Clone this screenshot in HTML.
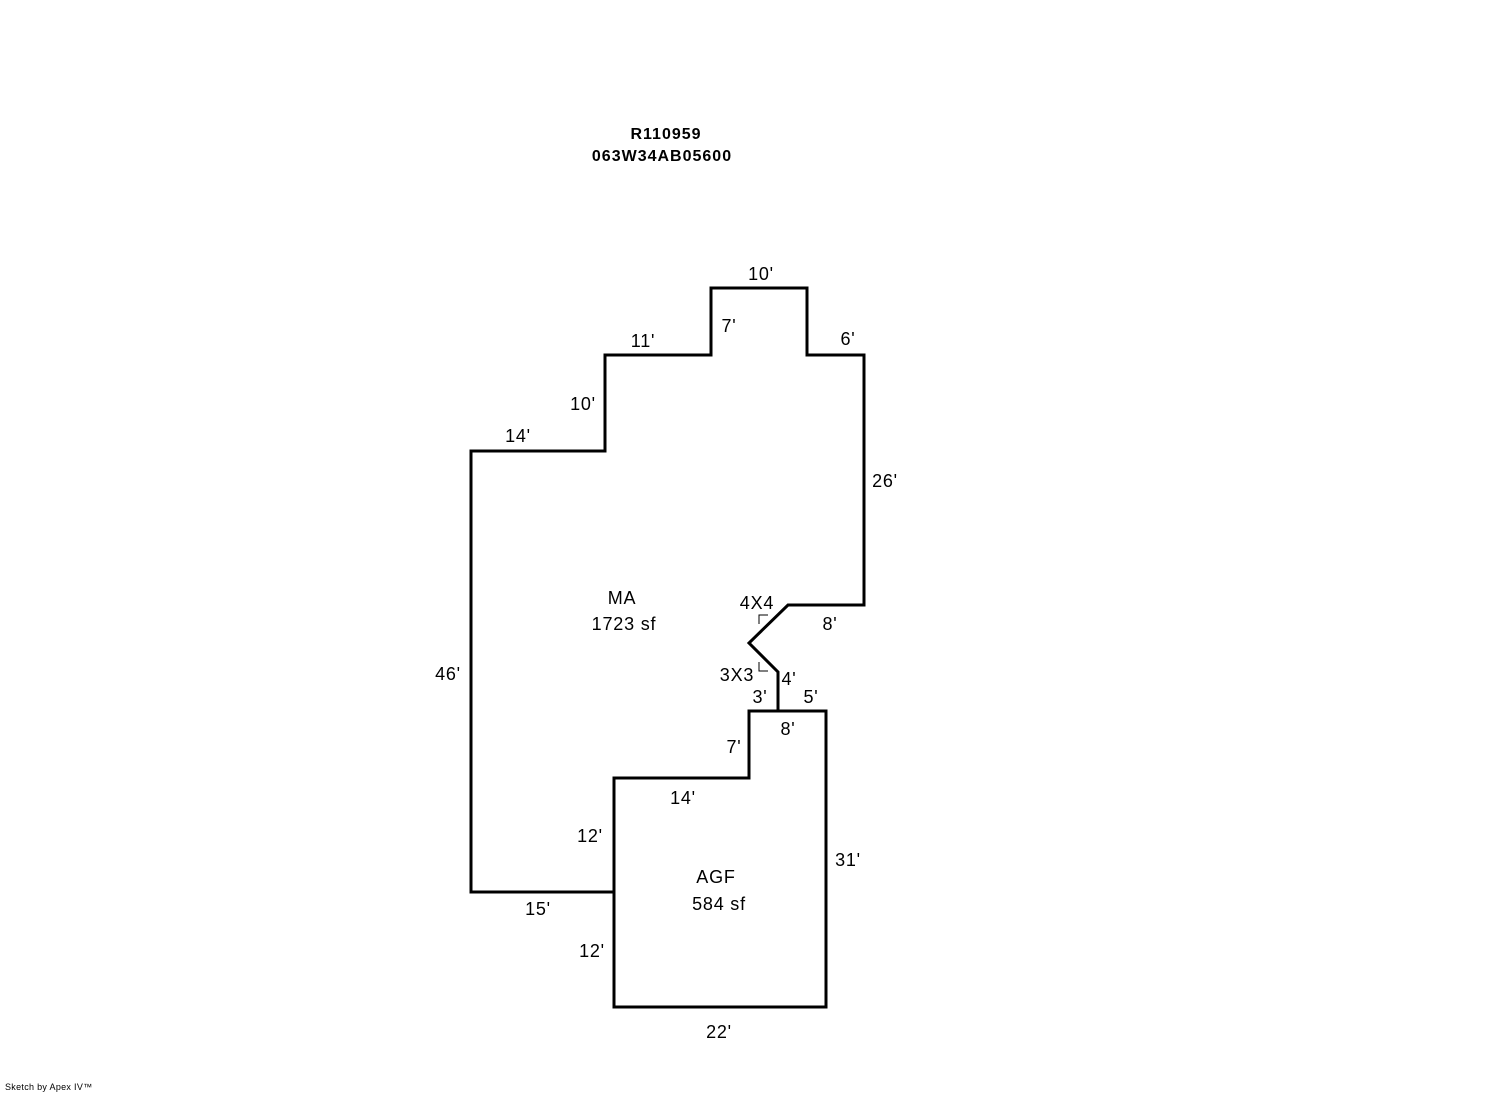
<!DOCTYPE html>
<html><head><meta charset="utf-8"><style>
body{margin:0;background:#fff;width:1492px;height:1094px;overflow:hidden}
text{font-family:"Liberation Sans",Arial,sans-serif;font-size:18px;letter-spacing:0.8px;fill:#000}
</style></head><body>
<svg width="1492" height="1094" xmlns="http://www.w3.org/2000/svg">
<g fill="none" stroke="#000" stroke-width="3" stroke-linejoin="miter">
<polyline points="614,892 471,892 471,451 605,451 605,355 711,355 711,288 807,288 807,355 864,355 864,605 788,605 749,643 778,672 778,711"/>
<polygon points="749,711 826,711 826,1007 614,1007 614,778 749,778"/>
</g>
<g fill="none" stroke="#000" stroke-width="1">
<polyline points="759,624 759,615 768,615"/>
<polyline points="759,662 759,671 768,671"/>
</g>
<text x="666" y="139" text-anchor="middle" font-weight="bold" style="font-size:16px;letter-spacing:1px">R110959</text>
<text x="662" y="161" text-anchor="middle" font-weight="bold" style="font-size:16px;letter-spacing:1px">063W34AB05600</text>
<text x="761" y="280" text-anchor="middle">10'</text>
<text x="729" y="332" text-anchor="middle">7'</text>
<text x="643" y="347" text-anchor="middle">11'</text>
<text x="848" y="345" text-anchor="middle">6'</text>
<text x="583" y="410" text-anchor="middle">10'</text>
<text x="518" y="442" text-anchor="middle">14'</text>
<text x="885" y="487" text-anchor="middle">26'</text>
<text x="622" y="604" text-anchor="middle">MA</text>
<text x="624" y="630" text-anchor="middle">1723 sf</text>
<text x="757" y="609" text-anchor="middle">4X4</text>
<text x="830" y="630" text-anchor="middle">8'</text>
<text x="448" y="680" text-anchor="middle">46'</text>
<text x="737" y="681" text-anchor="middle">3X3</text>
<text x="789" y="685" text-anchor="middle">4'</text>
<text x="760" y="703" text-anchor="middle">3'</text>
<text x="811" y="703" text-anchor="middle">5'</text>
<text x="788" y="735" text-anchor="middle">8'</text>
<text x="734" y="753" text-anchor="middle">7'</text>
<text x="683" y="804" text-anchor="middle">14'</text>
<text x="590" y="842" text-anchor="middle">12'</text>
<text x="848" y="866" text-anchor="middle">31'</text>
<text x="716" y="883" text-anchor="middle">AGF</text>
<text x="719" y="910" text-anchor="middle">584 sf</text>
<text x="538" y="915" text-anchor="middle">15'</text>
<text x="592" y="957" text-anchor="middle">12'</text>
<text x="719" y="1038" text-anchor="middle">22'</text>
<text x="5" y="1090" style="font-size:9px;letter-spacing:0.3px">Sketch by Apex IV™</text>
</svg>
</body></html>
